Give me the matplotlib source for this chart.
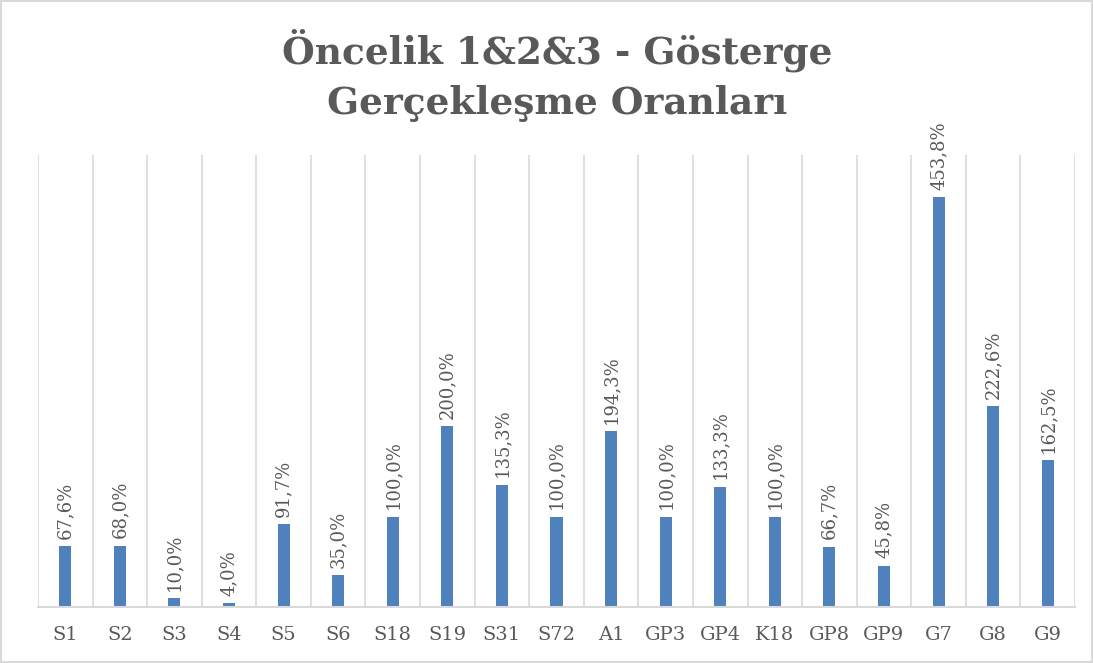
import matplotlib.pyplot as plt
import numpy as np

# Chart data
categories = ['S1', 'S2', 'S3', 'S4', 'S5', 'S6', 'S18', 'S19', 'S31', 'S72',
              'A1', 'GP3', 'GP4', 'K18', 'GP8', 'GP9', 'G7', 'G8', 'G9']
values = [67.6, 68.0, 10.0, 4.0, 91.7, 35.0, 100.0, 200.0, 135.3, 100.0,
          194.3, 100.0, 133.3, 100.0, 66.7, 45.8, 453.8, 222.6, 162.5]
title = 'Öncelik 1&2&3 - Gösterge\nGerçekleşme Oranları'

bar_color = '#4F81BD'
text_color = '#595959'
grid_color = '#D9D9D9'

plt.rcParams['font.family'] = ['DejaVu Serif']

fig = plt.figure(figsize=(10.93, 6.63), dpi=100)
fig.patch.set_edgecolor('#D9D9D9')
fig.patch.set_linewidth(1.5)
ax = fig.add_axes([0.0348, 0.0845, 0.9487, 0.6815])

x = np.arange(len(categories))
ax.bar(x, values, width=0.22, color=bar_color)

# data labels, rotated
for xi, v in zip(x, values):
    label = f'{v:.1f}%'.replace('.', ',')
    ax.text(xi, v + 8, label, rotation=90, ha='center', va='bottom',
            fontsize=13, color=text_color)

ax.set_xlim(-0.5, len(categories) - 0.5)
ax.set_ylim(0, 500)

# vertical separators between categories
for b in np.arange(-0.5, len(categories) + 0.5, 1):
    ax.axvline(b, color=grid_color, linewidth=1.2, zorder=0)

for s in ['top', 'right', 'left']:
    ax.spines[s].set_visible(False)
ax.spines['bottom'].set_color(grid_color)
ax.spines['bottom'].set_linewidth(1.5)

ax.set_yticks([])
ax.set_xticks(x)
ax.set_xticklabels(categories, fontsize=14, color=text_color)
ax.tick_params(axis='x', length=0, pad=14)

fig.text(0.5095, 0.887, title, ha='center', va='center', fontsize=27,
         fontweight='bold', color=text_color, linespacing=1.45)

plt.savefig('out.png', format='png', dpi=100)
